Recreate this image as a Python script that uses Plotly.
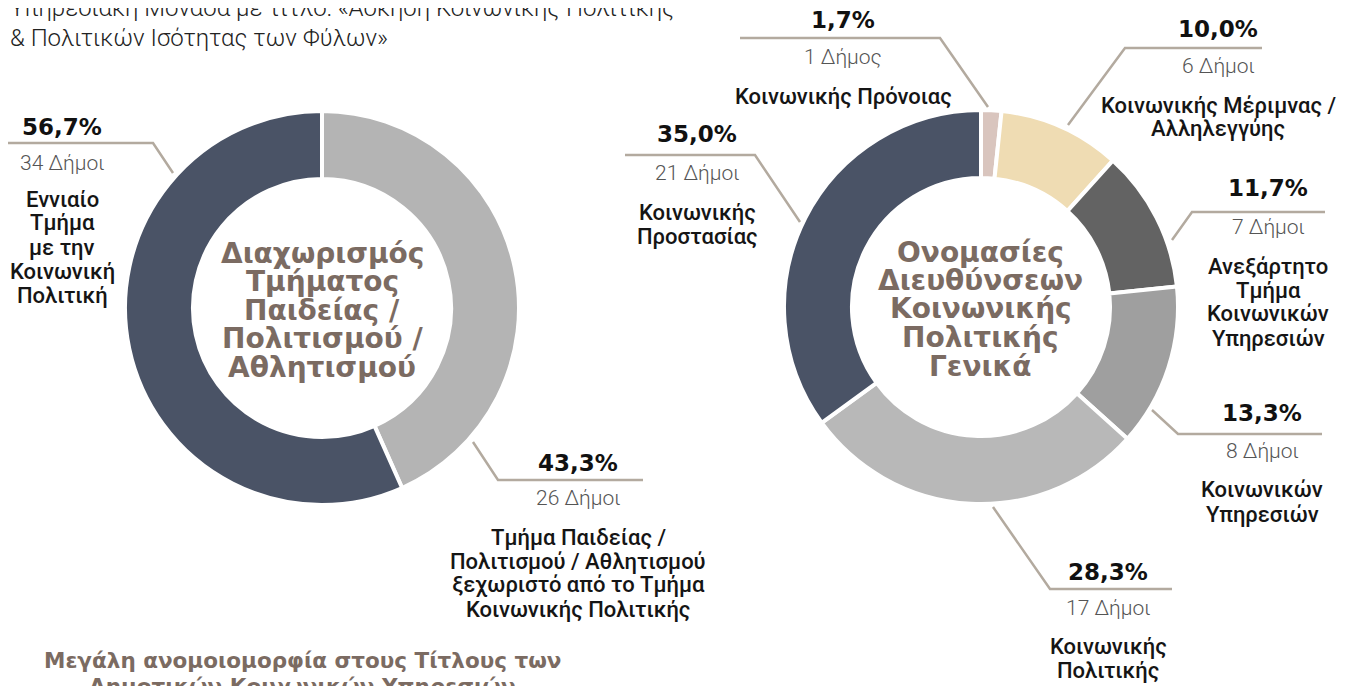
import plotly.graph_objects as go

# ---------------- data ----------------
TOTAL = 60
left_counts = [26, 34]
left_colors = ["#b4b4b4", "#4a5366"]
left_labels = [
    ["Τμήμα Παιδείας /", "Πολιτισμού / Αθλητισμού", "ξεχωριστό από το Τμήμα", "Κοινωνικής Πολιτικής"],
    ["Εννιαίο", "Τμήμα", "με την", "Κοινωνική", "Πολιτική"],
]
left_title = ["Διαχωρισμός", "Τμήματος", "Παιδείας /", "Πολιτισμού /", "Αθλητισμού"]

right_counts = [1, 6, 7, 8, 17, 21]
right_colors = ["#d9c5be", "#efdcb3", "#636363", "#9f9f9f", "#b8b8b8", "#4a5366"]
right_labels = [
    ["Κοινωνικής Πρόνοιας"],
    ["Κοινωνικής Μέριμνας /", "Αλληλεγγύης"],
    ["Ανεξάρτητο", "Τμήμα", "Κοινωνικών", "Υπηρεσιών"],
    ["Κοινωνικών", "Υπηρεσιών"],
    ["Κοινωνικής", "Πολιτικής"],
    ["Κοινωνικής", "Προστασίας"],
]
right_title = ["Ονομασίες", "Διευθύνσεων", "Κοινωνικής", "Πολιτικής", "Γενικά"]

top_text = ["Υπηρεσιακή Μονάδα με τίτλο: «Άσκηση Κοινωνικής Πολιτικής", "& Πολιτικών Ισότητας των Φύλων»"]
bottom_text = ["Μεγάλη ανομοιομορφία στους Τίτλους των", "Δημοτικών Κοινωνικών Υπηρεσιών"]

# ---------------- layout helpers ----------------
W, H = 1345, 686
OFF = 8          # page body margin compensation
R = 197
BROWN = "#7b6b62"
LEADER = "#b3aa9f"


def px(x):
    return (x - OFF) / W


def py(y):
    return 1 - (y - OFF) / H


def pct_text(c):
    return f"{100 * c / TOTAL:.1f}%".replace(".", ",")


def count_text(c):
    return f"{c} Δήμος" if c == 1 else f"{c} Δήμοι"


fig = go.Figure()

for cx, cy, counts, colors in [(322, 308, left_counts, left_colors), (981, 307, right_counts, right_colors)]:
    fig.add_trace(go.Pie(
        values=counts,
        marker=dict(colors=colors, line=dict(color="white", width=4)),
        hole=0.655,
        sort=False,
        direction="clockwise",
        rotation=0,
        textinfo="none",
        hoverinfo="skip",
        showlegend=False,
        domain=dict(x=[px(cx - R), px(cx + R)], y=[py(cy + R), py(cy - R)]),
    ))

annotations = []


def add_text(x, y, text, size, color, family, weight="normal", anchor="center"):
    annotations.append(dict(
        x=px(x), y=py(y), xref="paper", yref="paper", text=text, showarrow=False,
        xanchor=anchor, yanchor="middle",
        font=dict(size=size, color=color, family=family, weight=weight),
    ))


def add_block(x, y_pct, y_cnt, y_lab, count, lines, spacing=24):
    add_text(x, y_pct, pct_text(count), 23, "#111111", "DejaVu Sans", "bold")
    add_text(x, y_cnt, count_text(count), 21, "#555555", "Roboto", 300)
    for i, ln in enumerate(lines):
        add_text(x, y_lab + i * spacing, ln, 22, "#151515", "Roboto", 500)


# label block positions (x centre, pct y, count y, first label line y)
left_pos = [(578, 463, 498, 537), (62, 127, 163, 199)]
right_pos = [(843, 20, 57, 96), (1218, 29, 66, 105), (1268, 188, 227, 266),
             (1262, 413, 451, 490), (1108, 572, 608, 646), (697, 134, 173, 212)]

for (x, a, b, c), cnt, lines in zip(left_pos, left_counts, left_labels):
    add_block(x, a, b, c, cnt, lines)
for (x, a, b, c), cnt, lines in zip(right_pos, right_counts, right_labels):
    add_block(x, a, b, c, cnt, lines)

# centre titles
for i, ln in enumerate(left_title):
    add_text(322, 253 + i * 28.5, ln, 28, BROWN, "DejaVu Sans", "bold")
for i, ln in enumerate(right_title):
    add_text(981, 252 + i * 28.5, ln, 28, BROWN, "DejaVu Sans", "bold")

# top and bottom texts
for i, ln in enumerate(top_text):
    add_text(8, 8 + i * 30, ln, 24, "#222222", "Roboto", 300, anchor="left")
for i, ln in enumerate(bottom_text):
    add_text(302, 660 + i * 26, ln, 21.5, BROWN, "DejaVu Sans", "bold")

# leader lines (layout positions)
leaders = [
    [(0, 143), (153, 143), (173, 173)],
    [(473, 442), (498, 480), (643, 480)],
    [(740, 38), (940, 38), (988, 107)],
    [(1068, 125), (1125, 48), (1262, 48)],
    [(1172, 240), (1192, 212), (1325, 212)],
    [(1152, 410), (1178, 434), (1322, 434)],
    [(993, 507), (1050, 589), (1172, 589)],
    [(625, 155), (755, 155), (800, 222)],
]
shapes = []
for pts in leaders:
    path = "M " + " L ".join(f"{px(x):.5f},{py(y):.5f}" for x, y in pts)
    shapes.append(dict(type="path", path=path, xref="paper", yref="paper",
                       line=dict(color=LEADER, width=2.5)))

fig.update_layout(
    width=W, height=H,
    margin=dict(l=0, r=0, t=0, b=0),
    paper_bgcolor="white",
    plot_bgcolor="white",
    annotations=annotations,
    shapes=shapes,
)

fig.write_html("out.html")
